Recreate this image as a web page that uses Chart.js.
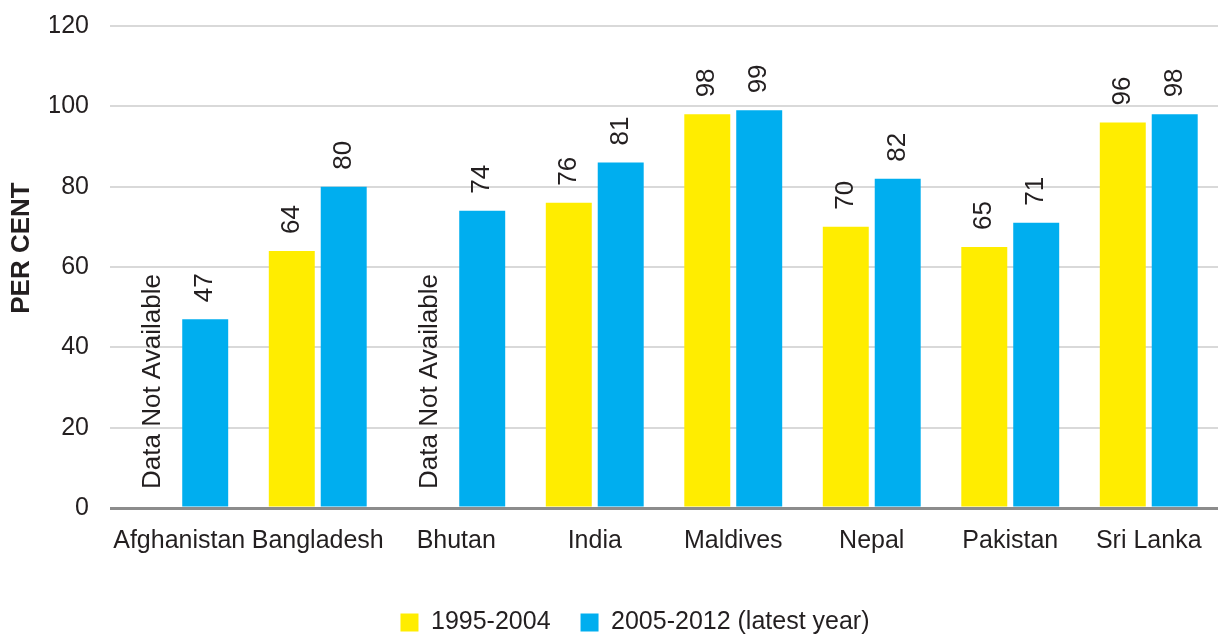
<!DOCTYPE html>
<html>
<head>
<meta charset="utf-8">
<script src="https://cdn.jsdelivr.net/npm/chart.js@4"></script>
<style>
  html, body { margin: 0; padding: 0; background: #fff; }
  #wrap { width: 1218px; height: 636px; }
</style>
</head>
<body>
<div id="wrap"><canvas id="chart"></canvas></div>
<script>
// datos
const countries = ['Afghanistan', 'Bangladesh', 'Bhutan', 'India', 'Maldives', 'Nepal', 'Pakistan', 'Sri Lanka'];
const period1 = [null, 64, null, 76, 98, 70, 65, 96];
const period2 = [47, 80, 74, 86, 99, 82, 71, 98];
// etiquetas tal como aparecen (India muestra 81)
const labels1 = ['', '64', '', '76', '98', '70', '65', '96'];
const labels2 = ['47', '80', '74', '81', '99', '82', '71', '98'];
const seriesNames = ['1995-2004', '2005-2012 (latest year)'];
const yTicks = [0, 20, 40, 60, 80, 100, 120];

const textColor = '#231f20';
const font = 'Liberation Sans, Arial, sans-serif';

const labelPlugin = {
    id: 'barLabels',
    afterDatasetsDraw(chart) {
        const ctx = chart.ctx;
        const yScale = chart.scales.y;
        ctx.save();
        ctx.fillStyle = textColor;
        ctx.font = '26px ' + font;
        ctx.textAlign = 'left';
        ctx.textBaseline = 'middle';
        [labels1, labels2].forEach(function(lbls, di) {
            const meta = chart.getDatasetMeta(di);
            meta.data.forEach(function(bar, i) {
                let text = lbls[i];
                let yBase;
                if (chart.data.datasets[di].data[i] == null) {
                    text = 'Data Not Available';
                    yBase = yScale.getPixelForValue(0) - 19;
                } else {
                    yBase = bar.y - 17;
                }
                if (!text) return;
                ctx.save();
                ctx.translate(bar.x, yBase);
                ctx.rotate(-Math.PI / 2);
                ctx.fillText(text, 0, 0);
                ctx.restore();
            });
        });
        // titulo del eje y
        ctx.font = 'bold 26px ' + font;
        ctx.textAlign = 'center';
        ctx.save();
        ctx.translate(22, 248);
        ctx.rotate(-Math.PI / 2);
        ctx.fillText('PER CENT', 0, 0);
        ctx.restore();
        ctx.restore();
    }
};

new Chart(document.getElementById('chart'), {
    type: 'bar',
    data: {
        labels: countries,
        datasets: [{
            label: seriesNames[0],
            data: period1,
            backgroundColor: '#ffed00',
            categoryPercentage: 0.75,
            barPercentage: 0.885
        }, {
            label: seriesNames[1],
            data: period2,
            backgroundColor: '#00aeef',
            categoryPercentage: 0.75,
            barPercentage: 0.885
        }]
    },
    options: {
        responsive: true,
        maintainAspectRatio: false,
        animation: false,
        layout: { padding: { top: 0, right: -2, left: 50, bottom: -9 } },
        scales: {
            y: {
                min: 0,
                max: 120,
                afterBuildTicks: function(scale) {
                    scale.ticks = yTicks.map(v => ({ value: v }));
                },
                afterFit: function(scale) {
                    scale.width = 60;
                    scale.paddingTop = 26;
                    scale.paddingBottom = 0;
                },
                grid: {
                    color: function(c) { return c.tick.value === 0 ? '#8c8c8c' : '#d9d9d9'; },
                    lineWidth: function(c) { return c.tick.value === 0 ? 3 : 2; },
                    drawTicks: false
                },
                border: { display: false },
                ticks: {
                    color: textColor,
                    font: { family: font, size: 25 },
                    padding: 21
                }
            },
            x: {
                grid: { display: false, drawTicks: false },
                border: { display: false },
                afterFit: function(scale) {
                    scale.height = 72;
                    scale.paddingLeft = 0;
                    scale.paddingRight = 0;
                },
                ticks: {
                    color: textColor,
                    font: { family: font, size: 25 },
                    padding: 18,
                    maxRotation: 0
                }
            }
        },
        plugins: {
            legend: {
                position: 'bottom',
                labels: {
                    color: textColor,
                    font: { family: font, size: 25 },
                    boxWidth: 18,
                    boxHeight: 18,
                    padding: 30,
                    useBorderRadius: false
                }
            },
            tooltip: { enabled: false }
        }
    },
    plugins: [labelPlugin]
});
</script>
</body>
</html>
